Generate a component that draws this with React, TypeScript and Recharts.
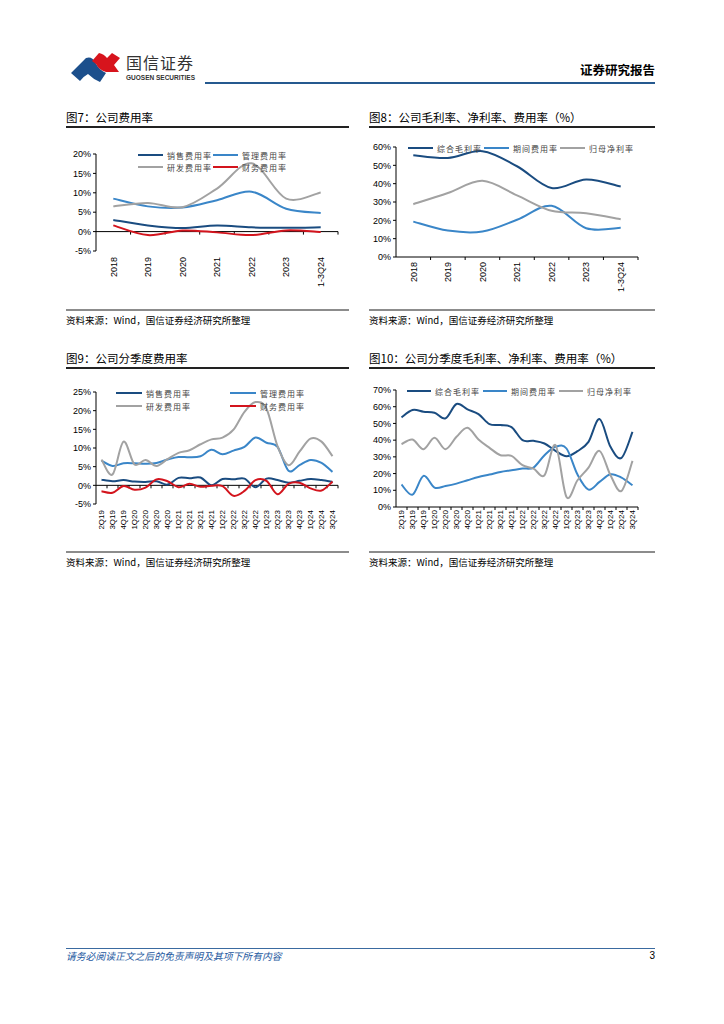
import React from 'react'
import { LineChart, Line, XAxis, YAxis, ReferenceLine } from 'recharts'

const CJK = '"Noto Sans CJK SC", "Noto Sans", sans-serif'
const LATIN = '"Liberation Sans", Arial, sans-serif'

const DARK = '#1a4c80'
const BLUE = '#3a86c8'
const GRAY = '#a2a2a2'
const RED = '#d3141d'

// 年度
const years = ['2018', '2019', '2020', '2021', '2022', '2023', '1-3Q24']
const yearSales = [3.0, 1.6, 0.9, 1.6, 1.1, 1.0, 1.1]
const yearAdmin = [8.5, 6.5, 6.2, 8.1, 10.3, 5.9, 4.8]
const yearRnd = [6.5, 7.4, 6.3, 11.1, 17.6, 8.5, 10.1]
const yearFin = [1.6, -0.9, 0.3, -0.2, -0.9, 0.3, -0.1]

const yearGross = [55.5, 54.0, 57.7, 49.5, 37.6, 42.3, 38.5]
const yearPeriod = [19.3, 14.4, 13.9, 20.3, 27.9, 15.7, 15.9]
const yearNet = [28.8, 34.9, 41.6, 33.6, 25.2, 23.9, 20.6]

// 季度
const quarters = [
  '2Q19', '3Q19', '4Q19', '1Q20', '2Q20', '3Q20', '4Q20', '1Q21', '2Q21', '3Q21', '4Q21',
  '1Q22', '2Q22', '3Q22', '4Q22', '1Q23', '2Q23', '3Q23', '4Q23', '1Q24', '2Q24', '3Q24',
]
const qSales = [1.5, 1.1, 1.4, 1.0, 0.9, 1.1, 0.2, 2.0, 1.9, 2.1, 0.0, 1.7, 1.6, 1.8, -0.5, 1.8, 1.4, 0.7, 1.2, 1.7, 1.4, 0.9]
const qAdmin = [6.6, 5.2, 5.9, 5.9, 5.8, 6.0, 6.9, 7.6, 7.5, 7.8, 9.5, 8.3, 9.3, 10.3, 12.8, 11.4, 10.3, 3.9, 5.4, 6.8, 6.0, 3.6]
const qRnd = [6.9, 2.9, 11.7, 5.6, 6.8, 5.2, 7.0, 8.7, 9.4, 11.0, 12.3, 12.8, 14.9, 19.7, 22.3, 20.5, 10.5, 5.4, 9.0, 12.5, 11.7, 7.8]
const qFin = [-1.6, -2.0, -0.2, -1.2, -0.6, 1.6, 1.1, -0.5, 0.4, -0.4, -0.1, -0.2, -2.8, -1.5, 1.4, 1.2, -2.4, 0.4, 0.7, -0.8, -1.4, 1.0]

const qGross = [53.6, 58.0, 57.0, 56.4, 53.0, 61.6, 58.4, 55.6, 49.6, 49.0, 47.8, 40.0, 39.6, 38.0, 33.6, 30.4, 33.4, 39.0, 52.6, 36.0, 29.4, 45.0]
const qPeriod = [13.4, 7.4, 18.6, 11.6, 12.6, 14.0, 16.0, 18.0, 19.4, 21.0, 22.0, 23.0, 23.6, 31.0, 36.0, 35.0, 19.4, 10.4, 15.0, 19.6, 17.6, 13.0]
const qNet = [37.6, 40.4, 34.6, 41.4, 34.6, 42.0, 47.4, 40.4, 35.4, 31.0, 30.6, 25.0, 23.0, 19.0, 37.0, 6.0, 16.0, 23.6, 33.6, 19.0, 9.6, 27.6]

const expenseSeries = [
  { key: 'sales', name: '销售费用率', color: DARK },
  { key: 'admin', name: '管理费用率', color: BLUE },
  { key: 'rnd', name: '研发费用率', color: GRAY },
  { key: 'fin', name: '财务费用率', color: RED },
]
const marginSeries = [
  { key: 'gross', name: '综合毛利率', color: DARK },
  { key: 'period', name: '期间费用率', color: BLUE },
  { key: 'net', name: '归母净利率', color: GRAY },
]

const yearExp = years.map((name, i) => ({ name, sales: yearSales[i], admin: yearAdmin[i], rnd: yearRnd[i], fin: yearFin[i] }))
const yearMar = years.map((name, i) => ({ name, gross: yearGross[i], period: yearPeriod[i], net: yearNet[i] }))
const qExp = quarters.map((name, i) => ({ name, sales: qSales[i], admin: qAdmin[i], rnd: qRnd[i], fin: qFin[i] }))
const qMar = quarters.map((name, i) => ({ name, gross: qGross[i], period: qPeriod[i], net: qNet[i] }))

// Excel 风格平滑曲线
const smooth = (context: any) => {
  let pts: number[][] = []
  return {
    areaStart() {},
    areaEnd() {},
    lineStart() {
      pts = []
    },
    lineEnd() {
      const n = pts.length
      if (!n) return
      context.moveTo(pts[0][0], pts[0][1])
      for (let i = 0; i < n - 1; i++) {
        const p0 = pts[Math.max(i - 1, 0)]
        const p1 = pts[i]
        const p2 = pts[i + 1]
        const p3 = pts[Math.min(i + 2, n - 1)]
        context.bezierCurveTo(
          p1[0] + (p2[0] - p0[0]) / 6,
          p1[1] + (p2[1] - p0[1]) / 6,
          p2[0] - (p3[0] - p1[0]) / 6,
          p2[1] - (p3[1] - p1[1]) / 6,
          p2[0],
          p2[1]
        )
      }
    },
    point(x: number, y: number) {
      pts.push([+x, +y])
    },
  }
}

const zeroAxis = (n: number) => (p: any) => {
  const step = (p.x2 - p.x1) / n
  return (
    <g>
      <line x1={p.x1} x2={p.x2} y1={p.y1} y2={p.y1} stroke="#000" strokeWidth={1} />
      {Array.from({ length: n }, (_, i) => (
        <line key={i} x1={p.x1 + step * (i + 1)} x2={p.x1 + step * (i + 1)} y1={p.y1} y2={p.y1 + 3} stroke="#000" strokeWidth={1} />
      ))}
    </g>
  )
}

const RotTick = ({ x, y, payload, fs }: any) => (
  <text
    x={x}
    y={y}
    transform={`rotate(-90 ${x} ${y})`}
    textAnchor="end"
    dy={fs * 0.36}
    fontSize={fs}
    fill="#000"
    fontFamily={LATIN}
  >
    {payload.value}
  </text>
)

interface LegendItem {
  name: string
  color: string
  x: number
  y: number
  w: number
}

interface PanelProps {
  left: number
  top: number
  width: number
  height: number
  data: any[]
  series: { key: string; name: string; color: string }[]
  domain: number[]
  ticks: number[]
  margin: { top: number; right: number; left: number; bottom: number }
  xHeight: number
  xGap: number
  xFont: number
  legend: LegendItem[]
}

function Panel(p: PanelProps) {
  return (
    <div style={{ position: 'absolute', left: p.left, top: p.top }}>
      <LineChart width={p.width} height={p.height} data={p.data} margin={p.margin}>
        <XAxis
          dataKey="name"
          scale="band"
          axisLine={false}
          tickLine={false}
          tickSize={0}
          tickMargin={p.xGap}
          interval={0}
          height={p.xHeight}
          tick={(t: any) => <RotTick {...t} fs={p.xFont} />}
        />
        <YAxis
          domain={p.domain}
          ticks={p.ticks}
          interval={0}
          width={36}
          axisLine={{ stroke: '#000' }}
          tickLine={{ stroke: '#000' }}
          tickSize={3}
          tickMargin={2}
          tickFormatter={(v: number) => `${v}%`}
          tick={{ fontSize: 9, fill: '#000', fontFamily: LATIN }}
        />
        <ReferenceLine y={0} ifOverflow="visible" shape={zeroAxis(p.data.length)} />
        {p.series.map((s) => (
          <Line
            key={s.key}
            dataKey={s.key}
            name={s.name}
            type={smooth as any}
            stroke={s.color}
            strokeWidth={2}
            dot={false}
            isAnimationActive={false}
          />
        ))}
      </LineChart>
      {p.legend.map((l) => (
        <div
          key={l.name}
          style={{
            position: 'absolute',
            left: l.x - p.left,
            top: l.y - p.top - 6,
            height: 12,
            display: 'flex',
            alignItems: 'center',
            whiteSpace: 'nowrap',
          }}
        >
          <div style={{ width: l.w, height: 2, background: l.color }} />
          <span style={{ marginLeft: 4, fontSize: 8, color: '#444', fontFamily: CJK, letterSpacing: 1 }}>{l.name}</span>
        </div>
      ))}
    </div>
  )
}

const leg = (list: { name: string; color: string }[], xs: number[], ys: number[], w: number): LegendItem[] =>
  list.map((s, i) => ({ name: s.name, color: s.color, x: xs[i], y: ys[i], w }))

function Section({ left, width, top, title, sourceTop }: any) {
  return (
    <>
      <div style={{ position: 'absolute', left, top, fontSize: 11.5, lineHeight: '14px', fontFamily: CJK, color: '#000' }}>
        {title}
      </div>
      <div style={{ position: 'absolute', left, top: top + 16, width, height: 1.5, background: '#222' }} />
      <div style={{ position: 'absolute', left, top: sourceTop, width, height: 1.5, background: '#8c8c8c' }} />
      <div style={{ position: 'absolute', left, top: sourceTop + 5, fontSize: 9.5, lineHeight: '12px', fontFamily: CJK, color: '#000' }}>
        资料来源：Wind，国信证券经济研究所整理
      </div>
    </>
  )
}

export default function App() {
  return (
    <div style={{ position: 'absolute', left: 0, top: 0, width: 724, height: 1024, background: '#fff', overflow: 'hidden' }}>
      {/* 页眉 */}
      <svg style={{ position: 'absolute', left: 0, top: 0 }} width={724} height={100}>
        <path d="M71 73 L86 58 Q92 56 95 62 Q99 70 106 73 L100 82 Q93 79 88 74 Q84 76 80 81 Z" fill="#1c4f8c" />
        <path d="M92 61 L99 53 Q104 54 107 58 L112 53 L120 58 L114 65 L119 72 L106 72 Q99 70 96 64 Z" fill="#d7141d" />
      </svg>
      <div style={{ position: 'absolute', left: 126, top: 53, fontSize: 16, lineHeight: '18px', fontFamily: CJK, color: '#333', letterSpacing: 1 }}>
        国信证券
      </div>
      <div style={{ position: 'absolute', left: 126, top: 74, fontSize: 6.5, lineHeight: '8px', fontFamily: LATIN, fontWeight: 700, color: '#333' }}>
        GUOSEN SECURITIES
      </div>
      <div style={{ position: 'absolute', left: 205, top: 82, width: 450, height: 2, background: '#25598f' }} />
      <div style={{ position: 'absolute', right: 724 - 655, top: 62, fontSize: 12.5, lineHeight: '15px', fontFamily: CJK, fontWeight: 700, color: '#000' }}>
        证券研究报告
      </div>

      <Section left={66} width={283} top={110} title="图7：公司费用率" sourceTop={309} />
      <Section left={369} width={286} top={110} title="图8：公司毛利率、净利率、费用率（%）" sourceTop={309} />
      <Section left={66} width={283} top={351} title="图9：公司分季度费用率" sourceTop={551} />
      <Section left={369} width={286} top={351} title="图10：公司分季度毛利率、净利率、费用率（%）" sourceTop={551} />

      <Panel
        left={60}
        top={130}
        width={290}
        height={175}
        data={yearExp}
        series={expenseSeries}
        domain={[-5, 20]}
        ticks={[-5, 0, 5, 10, 15, 20]}
        margin={{ top: 24, right: 12, left: 0, bottom: 14 }}
        xHeight={40}
        xGap={6}
        xFont={9}
        legend={leg(expenseSeries, [138, 213, 138, 213], [155, 155, 167, 167], 25)}
      />
      <Panel
        left={360}
        top={130}
        width={300}
        height={175}
        data={yearMar}
        series={marginSeries}
        domain={[0, 60]}
        ticks={[0, 10, 20, 30, 40, 50, 60]}
        margin={{ top: 17, right: 22, left: 0, bottom: 8 }}
        xHeight={40}
        xGap={5}
        xFont={9}
        legend={leg(marginSeries, [408, 484, 560], [148, 148, 148], 25)}
      />
      <Panel
        left={60}
        top={370}
        width={290}
        height={180}
        data={qExp}
        series={expenseSeries}
        domain={[-5, 25]}
        ticks={[-5, 0, 5, 10, 15, 20, 25]}
        margin={{ top: 22, right: 12, left: 0, bottom: 16 }}
        xHeight={30}
        xGap={6}
        xFont={8}
        legend={leg(expenseSeries, [116, 230, 116, 230], [393, 393, 406, 406], 26)}
      />
      <Panel
        left={360}
        top={370}
        width={300}
        height={180}
        data={qMar}
        series={marginSeries}
        domain={[0, 70]}
        ticks={[0, 10, 20, 30, 40, 50, 60, 70]}
        margin={{ top: 20, right: 22, left: 0, bottom: 13 }}
        xHeight={30}
        xGap={3}
        xFont={8}
        legend={leg(marginSeries, [407, 483, 559], [391, 391, 391], 24)}
      />

      {/* 页脚 */}
      <div style={{ position: 'absolute', left: 66, top: 948, width: 589, height: 1, background: '#3a6aa0' }} />
      <div style={{ position: 'absolute', left: 66, top: 950, fontSize: 9.8, lineHeight: '12px', fontFamily: CJK, fontStyle: 'italic', color: '#2458a0' }}>
        请务必阅读正文之后的免责声明及其项下所有内容
      </div>
      <div style={{ position: 'absolute', right: 724 - 655, top: 950, fontSize: 10, lineHeight: '12px', fontFamily: LATIN, color: '#000' }}>
        3
      </div>
    </div>
  )
}
